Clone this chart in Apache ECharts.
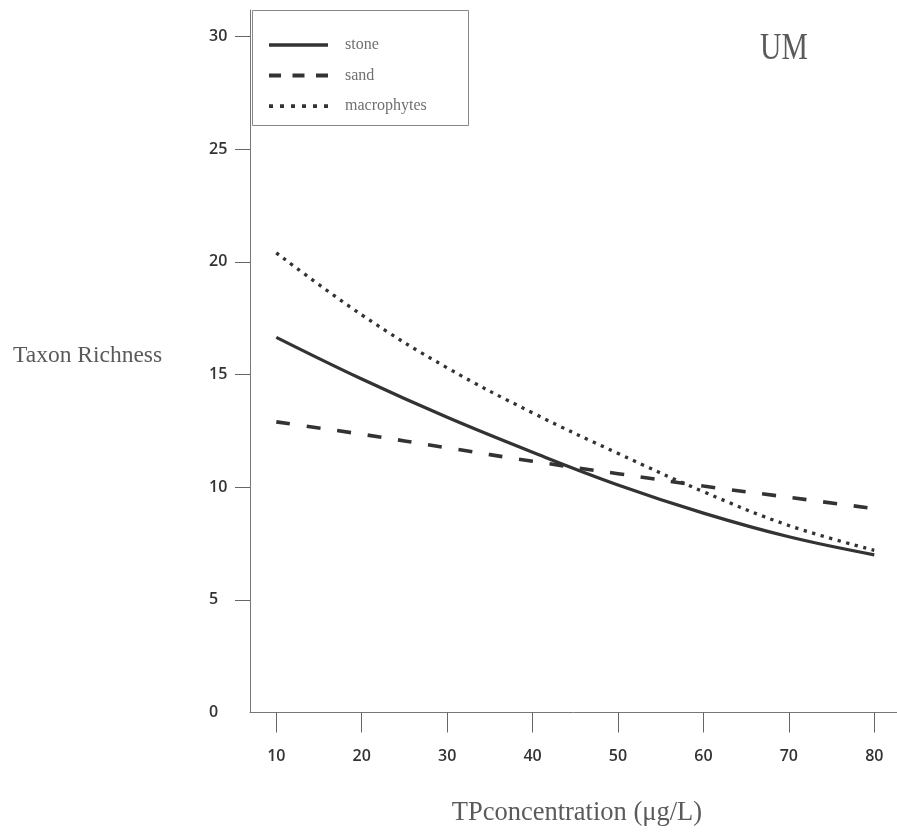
<!DOCTYPE html>
<html>
<head>
<meta charset="utf-8">
<script src="https://cdn.jsdelivr.net/npm/echarts@6/dist/echarts.min.js"></script>
<style>
  html, body { margin: 0; padding: 0; background: #fff; }
  #chart { width: 897px; height: 834px; }
</style>
</head>
<body>
<div id="chart"></div>
<script>
// TP concentration (µg/L) at which each curve is sampled
const tpValues = [10, 20, 30, 40, 50, 60, 70, 80];
// Modelled taxon richness per substrate
const stone = [16.65, 14.8, 13.1, 11.55, 10.1, 8.85, 7.8, 7.0];
const sand = [12.9, 12.35, 11.75, 11.15, 10.6, 10.05, 9.55, 9.05];
const macrophytes = [20.4, 17.65, 15.3, 13.3, 11.5, 9.8, 8.3, 7.2];
// Axis ticks and labels
const xTicks = [10, 20, 30, 40, 50, 60, 70, 80];
const yTicks = [5, 10, 15, 20, 25, 30];
const yLabels = [0, 5, 10, 15, 20, 25, 30];

const pairs = vals => tpValues.map((x, i) => [x, vals[i]]);
const ink = '#333';
const serif = '"Liberation Serif", "DejaVu Serif", serif';
const sans = '"Open Sans", "Noto Sans", sans-serif';

const chart = echarts.init(document.getElementById('chart'));
chart.setOption({
  animation: false,
  backgroundColor: '#fff',
  grid: { left: 250, right: 0, top: 10, bottom: 121.5, containLabel: false },
  xAxis: {
    type: 'value',
    min: 6.92,
    max: 82.66,
    axisLine: { show: true, lineStyle: { color: '#777', width: 1 } },
    axisTick: { show: true, customValues: xTicks, length: 20, lineStyle: { color: '#666', width: 1 } },
    axisLabel: { customValues: xTicks, margin: 36, color: ink, fontFamily: sans, fontWeight: 600, fontSize: 16 },
    splitLine: { show: false }
  },
  yAxis: {
    type: 'value',
    min: 0,
    max: 31.18,
    axisLine: { show: true, lineStyle: { color: '#777', width: 1 } },
    axisTick: { show: true, customValues: yTicks, length: 15, lineStyle: { color: '#666', width: 1 } },
    axisLabel: { customValues: yLabels, margin: 41, align: 'left', color: ink, fontFamily: sans, fontWeight: 600, fontSize: 16 },
    splitLine: { show: false }
  },
  legend: {
    orient: 'vertical',
    left: 252,
    top: 10,
    padding: [27, 15, 18, 15],
    itemWidth: 59,
    itemHeight: 14,
    itemGap: 14.6,
    itemStyle: { opacity: 0 },
    lineStyle: { width: 3.6, cap: 'butt' },
    textStyle: { color: '#707070', fontFamily: serif, fontSize: 16, padding: [0, 0, 0, 12] },
    data: [
      { name: 'stone' },
      { name: 'sand', lineStyle: { width: 4, type: [12, 11.5], cap: 'butt' } },
      { name: 'macrophytes', lineStyle: { width: 3.8, type: [4, 7], cap: 'butt' } }
    ]
  },
  graphic: [
    {
      type: 'rect', z: 0,
      shape: { x: 252.5, y: 10.5, width: 216, height: 115 },
      style: { fill: '#fff', stroke: '#888', lineWidth: 1 }
    },
    {
      type: 'text', x: 760, y: 49.2, scaleX: 0.78,
      style: { text: 'UM', fill: '#5a5a5a', font: '38px ' + serif, textAlign: 'left', textVerticalAlign: 'middle' }
    },
    {
      type: 'text', x: 13, y: 355.4,
      style: { text: 'Taxon Richness', fill: '#5a5a5a', font: '23.5px ' + serif, textAlign: 'left', textVerticalAlign: 'middle' }
    },
    {
      type: 'text', x: 451.7, y: 812.6,
      style: { text: 'TPconcentration (μg/L)', fill: '#5a5a5a', font: '26.5px ' + serif, textAlign: 'left', textVerticalAlign: 'middle' }
    }
  ],
  series: [
    {
      name: 'stone', type: 'line', data: pairs(stone), smooth: 0.4,
      symbol: 'none', z: 5,
      lineStyle: { color: ink, width: 3.3, type: 'solid' },
      itemStyle: { color: ink }
    },
    {
      name: 'sand', type: 'line', data: pairs(sand), smooth: 0.4,
      symbol: 'none', z: 5,
      lineStyle: { color: ink, width: 3.6, type: [14, 16.7], cap: 'butt' },
      itemStyle: { color: ink }
    },
    {
      name: 'macrophytes', type: 'line', data: pairs(macrophytes), smooth: 0.4,
      symbol: 'none', z: 5,
      lineStyle: { color: ink, width: 3.3, type: [3.3, 5.5], cap: 'butt' },
      itemStyle: { color: ink }
    }
  ]
});
</script>
</body>
</html>
